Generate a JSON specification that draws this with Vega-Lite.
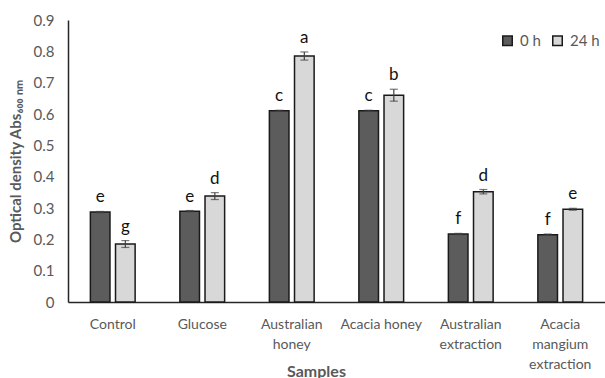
{
  "$schema": "https://vega.github.io/schema/vega-lite/v6.json",
  "width": 537,
  "height": 282,
  "autosize": {"type": "none"},
  "padding": {"left": 68, "top": 20, "right": 0, "bottom": 76},
  "background": "white",
  "config": {"view": {"stroke": null}, "font": "Lato",
    "axisY": {"titleFontSize": 15, "titleFontWeight": "bold", "titleColor": "#595959", "titlePadding": 10, "labelFontSize": 15, "labelColor": "#595959", "labelPadding": 14, "labelOverlap": false, "ticks": false, "grid": false, "domainColor": "#262626", "domainWidth": 1.5}},
  "data": {"values": [
    {"sample": "Control", "time": "0 h", "od": 0.287, "lo": 0.285, "hi": 0.289, "letter": "e"},
    {"sample": "Control", "time": "24 h", "od": 0.185, "lo": 0.174, "hi": 0.196, "letter": "g"},
    {"sample": "Glucose", "time": "0 h", "od": 0.290, "lo": 0.288, "hi": 0.292, "letter": "e"},
    {"sample": "Glucose", "time": "24 h", "od": 0.338, "lo": 0.327, "hi": 0.349, "letter": "d"},
    {"sample": "Australian|honey", "time": "0 h", "od": 0.610, "lo": 0.608, "hi": 0.612, "letter": "c"},
    {"sample": "Australian|honey", "time": "24 h", "od": 0.785, "lo": 0.772, "hi": 0.798, "letter": "a"},
    {"sample": "Acacia honey", "time": "0 h", "od": 0.610, "lo": 0.608, "hi": 0.612, "letter": "c"},
    {"sample": "Acacia honey", "time": "24 h", "od": 0.660, "lo": 0.641, "hi": 0.679, "letter": "b"},
    {"sample": "Australian|extraction", "time": "0 h", "od": 0.217, "lo": 0.215, "hi": 0.219, "letter": "f"},
    {"sample": "Australian|extraction", "time": "24 h", "od": 0.352, "lo": 0.345, "hi": 0.359, "letter": "d"},
    {"sample": "Acacia|mangium|extraction", "time": "0 h", "od": 0.215, "lo": 0.213, "hi": 0.217, "letter": "f"},
    {"sample": "Acacia|mangium|extraction", "time": "24 h", "od": 0.296, "lo": 0.293, "hi": 0.299, "letter": "e"}
  ]},
  "encoding": {
    "x": {
      "field": "sample", "type": "nominal", "sort": null,
      "scale": {"paddingInner": 0.5, "paddingOuter": 0.25},
      "axis": {
        "title": "Samples", "titleFont": "Lato", "titleFontSize": 16, "titleFontWeight": "bold", "titleColor": "#595959", "titlePadding": -8, "titleX": 248,
        "labelExpr": "split(datum.label, '|')", "labelAngle": 0, "labelFontSize": 14, "labelColor": "#595959", "labelPadding": 15, "labelLineHeight": 20,
        "ticks": false, "domainColor": "#262626", "domainWidth": 1.5, "grid": false
      }
    },
    "xOffset": {"field": "time", "type": "nominal", "scale": {"paddingInner": 0.22}}
  },
  "layer": [
    {
      "mark": {"type": "bar", "stroke": "#1a1a1a", "strokeWidth": 1.5},
      "encoding": {
        "y": {"field": "od", "type": "quantitative",
          "scale": {"domain": [0, 0.9]},
          "axis": {"title": "Optical density Abs₆₀₀ ₙₘ", "values": [0, 0.1, 0.2, 0.3, 0.4, 0.5, 0.6, 0.7, 0.8, 0.9], "format": ".1~f"}},
        "color": {"field": "time", "type": "nominal",
          "scale": {"domain": ["0 h", "24 h"], "range": ["#5c5c5c", "#d8d8d8"]},
          "legend": {"title": null, "orient": "none", "legendX": 432, "legendY": 13, "direction": "horizontal",
            "symbolType": "square", "symbolSize": 90, "symbolStrokeColor": "#1a1a1a", "symbolStrokeWidth": 1.5,
            "labelFontSize": 15, "labelColor": "#595959", "columnPadding": 8, "labelOffset": 5}}
      }
    },
    {
      "mark": {"type": "rule", "color": "#404040", "strokeWidth": 1.2},
      "encoding": {"y": {"field": "lo", "type": "quantitative", "axis": {"title": "Optical density Abs₆₀₀ ₙₘ", "values": [0, 0.1, 0.2, 0.3, 0.4, 0.5, 0.6, 0.7, 0.8, 0.9], "format": ".1~f"}}, "y2": {"field": "hi"}}
    },
    {
      "mark": {"type": "tick", "color": "#404040", "size": 8, "thickness": 1.2},
      "encoding": {"y": {"field": "lo", "type": "quantitative", "axis": {"title": "Optical density Abs₆₀₀ ₙₘ", "values": [0, 0.1, 0.2, 0.3, 0.4, 0.5, 0.6, 0.7, 0.8, 0.9], "format": ".1~f"}}}
    },
    {
      "mark": {"type": "tick", "color": "#404040", "size": 8, "thickness": 1.2},
      "encoding": {"y": {"field": "hi", "type": "quantitative", "axis": {"title": "Optical density Abs₆₀₀ ₙₘ", "values": [0, 0.1, 0.2, 0.3, 0.4, 0.5, 0.6, 0.7, 0.8, 0.9], "format": ".1~f"}}}
    },
    {
      "mark": {"type": "text", "dy": -14, "fontSize": 17, "color": "#111111", "font": "Lato"},
      "encoding": {"y": {"field": "hi", "type": "quantitative", "axis": {"title": "Optical density Abs₆₀₀ ₙₘ", "values": [0, 0.1, 0.2, 0.3, 0.4, 0.5, 0.6, 0.7, 0.8, 0.9], "format": ".1~f"}}, "text": {"field": "letter"}}
    }
  ]
}
